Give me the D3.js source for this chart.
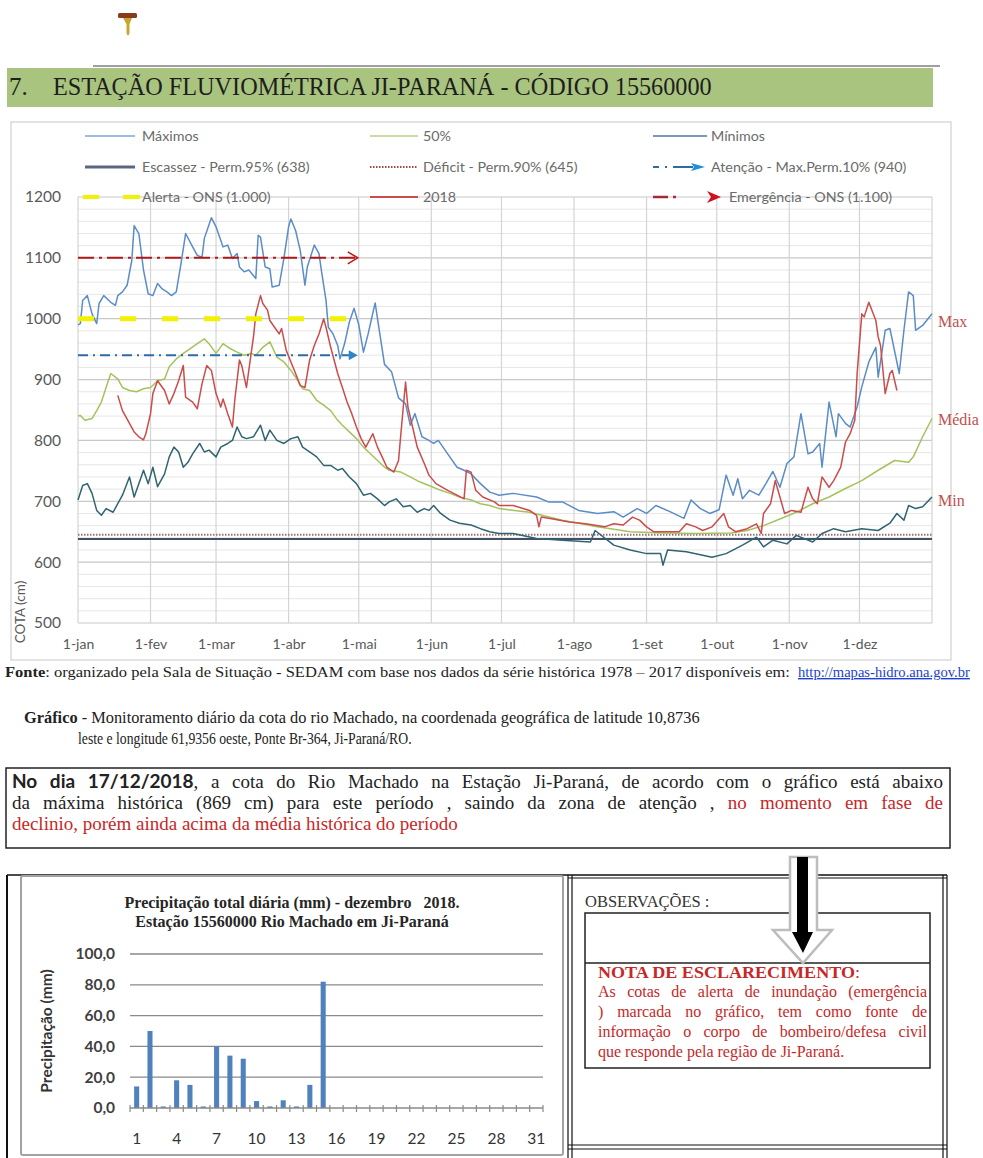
<!DOCTYPE html>
<html>
<head>
<meta charset="utf-8">
<script src="https://cdn.jsdelivr.net/npm/d3@7"></script>
<style>
  body { margin: 0; background: #fff; }
  svg { display: block; }
  text { white-space: pre; }
</style>
</head>
<body>
<svg id="page" width="983" height="1158"></svg>
<script>
// ---------------- Cota do rio Machado (cm) por dia do ano ----------------
const monthLabels = ["1-jan","1-fev","1-mar","1-abr","1-mai","1-jun","1-jul","1-ago","1-set","1-out","1-nov","1-dez"];
const monthStartDays = [0,31,59,90,120,151,181,212,243,273,304,334];
const cotaTicks = [500,600,700,800,900,1000,1100,1200];

// [dia do ano, cota]
const maximos = [[0,990],[1,992],[2,1030],[4,1038],[6,1008],[8,992],[9,1025],[11,1038],[14,1027],[16,1022],[17,1038],[19,1044],[21,1055],[23,1096],[24,1153],[26,1140],[28,1080],[30,1041],[32,1038],[34,1058],[36,1049],[38,1044],[40,1038],[42,1044],[44,1090],[46,1140],[49,1118],[51,1104],[53,1101],[54,1132],[57,1166],[59,1151],[61,1129],[62,1118],[64,1121],[66,1099],[68,1107],[69,1085],[71,1077],[73,1080],[76,1066],[77,1137],[78,1134],[80,1085],[82,1082],[83,1052],[86,1055],[88,1099],[90,1151],[91,1164],[93,1145],[95,1112],[97,1055],[98,1085],[101,1121],[103,1107],[104,1080],[106,1030],[107,986],[109,975],[111,956],[112,934],[114,960],[116,995],[118,1017],[120,990],[122,945],[124,975],[127,1026],[129,975],[131,925],[134,913],[137,870],[140,860],[142,825],[144,844],[147,806],[150,800],[152,795],[154,800],[158,778],[162,756],[165,751],[168,745],[172,729],[176,715],[180,710],[186,713],[196,707],[201,699],[207,699],[214,685],[222,680],[229,683],[233,674],[239,688],[243,680],[247,693],[253,683],[259,672],[262,702],[266,688],[270,680],[274,686],[277,743],[280,710],[282,737],[284,704],[287,718],[291,710],[294,729],[297,749],[300,723],[303,762],[306,773],[309,844],[312,778],[314,781],[317,795],[318,756],[321,863],[324,806],[325,844],[328,828],[330,822],[333,855],[335,888],[338,929],[341,953],[342,904],[345,981],[347,984],[351,910],[353,981],[355,1044],[357,1038],[358,981],[361,989],[365,1008]];

const mediana50 = [[0,840],[1,841],[3,833],[6,836],[8,849],[10,863],[12,887],[14,910],[17,901],[19,887],[22,882],[25,880],[28,885],[31,887],[34,898],[37,901],[39,921],[42,934],[45,943],[48,951],[51,959],[54,967],[56,959],[59,943],[62,959],[65,951],[68,945],[71,940],[74,943],[76,940],[79,953],[82,962],[85,937],[88,929],[91,915],[94,898],[96,885],[99,882],[102,866],[105,858],[108,849],[111,833],[113,825],[116,814],[119,803],[122,789],[125,778],[128,767],[131,756],[133,751],[138,748],[142,740],[146,732],[150,726],[155,718],[159,713],[163,707],[168,702],[172,696],[176,693],[180,688],[193,682],[207,669],[222,658],[236,650],[250,648],[264,647],[279,648],[286,652],[293,660],[300,671],[307,682],[314,696],[321,707],[328,721],[335,734],[342,751],[349,767],[355,764],[357,773],[361,806],[365,836]];

const minimos = [[0,702],[2,726],[4,729],[6,713],[8,685],[10,677],[12,688],[15,682],[17,696],[19,710],[22,740],[24,707],[26,729],[28,751],[30,729],[32,756],[34,724],[37,745],[39,773],[41,789],[43,781],[45,756],[47,764],[49,778],[52,795],[54,781],[56,784],[59,773],[61,789],[64,795],[66,800],[68,822],[70,806],[72,803],[75,806],[78,825],[80,800],[82,817],[85,800],[88,795],[91,803],[94,806],[96,789],[99,781],[102,773],[105,759],[108,759],[111,751],[113,754],[116,740],[119,729],[122,710],[125,713],[128,704],[131,693],[133,699],[136,704],[139,691],[142,693],[145,682],[148,688],[150,685],[152,693],[155,680],[159,669],[163,664],[168,661],[172,655],[176,650],[180,647],[186,647],[196,639],[207,636],[219,633],[221,652],[229,628],[236,620],[243,614],[249,614],[250,595],[252,620],[260,617],[271,608],[277,614],[284,628],[290,641],[293,625],[297,636],[303,630],[307,644],[314,633],[318,647],[323,655],[328,650],[335,655],[342,652],[347,664],[350,680],[353,669],[355,693],[358,688],[361,691],[365,707]];

const cota2018 = [[17,874],[19,849],[22,828],[24,814],[26,806],[28,801],[29,811],[31,844],[32,877],[34,898],[37,882],[39,860],[41,877],[43,898],[45,923],[46,871],[49,863],[51,852],[53,893],[55,923],[57,915],[59,877],[61,855],[62,868],[64,844],[66,822],[67,866],[69,932],[70,923],[72,887],[74,943],[75,970],[76,1008],[78,1038],[79,1025],[81,1014],[82,997],[84,986],[86,975],[87,984],[89,948],[91,929],[93,910],[95,890],[97,887],[99,932],[101,956],[103,975],[105,1000],[106,986],[108,953],[111,910],[113,887],[115,863],[117,844],[119,822],[121,803],[123,789],[126,811],[128,789],[130,773],[132,756],[135,748],[137,767],[138,811],[140,896],[141,855],[143,822],[145,789],[148,762],[150,743],[153,729],[158,718],[162,710],[165,704],[166,751],[168,748],[170,718],[173,707],[178,699],[180,693],[186,693],[193,685],[196,677],[197,658],[198,674],[203,671],[210,666],[217,663],[225,658],[229,663],[233,661],[237,674],[240,669],[243,658],[246,650],[252,650],[257,650],[260,663],[264,658],[267,652],[271,658],[276,680],[278,658],[281,650],[286,655],[290,663],[292,647],[293,680],[296,696],[298,734],[300,707],[302,680],[305,685],[309,682],[312,723],[314,704],[316,696],[318,740],[321,723],[323,734],[326,756],[328,797],[330,811],[332,833],[333,910],[335,1008],[336,1003],[338,1027],[341,997],[342,970],[343,956],[345,877],[347,910],[348,915],[350,882]];

// cotas de referência (cm) e dia final das faixas de alerta
const cotaEscassez = 638, cotaDeficit = 645, cotaAtencao = 940, cotaAlerta = 1000, cotaEmergencia = 1100;
const fimFaixaAlerta = 120;

// ---------------- Precipitação diária, dezembro 2018 (mm) ----------------
const precipDays = [1,2,3,4,5,6,7,8,9,10,11,12,13,14,15,16,17,18,19,20,21,22,23,24,25,26,27,28,29,30,31];
const precipValues = [14,50,1,18,15,1,40,34,32,4.5,1,5,1,15,82,0,0,0,0,0,0,0,0,0,0,0,0,0,0,0,0];
const precipDayLabels = [1,4,7,10,13,16,19,22,25,28,31];
const precipTicks = [0,20,40,60,80,100];

// ---------------- helpers ----------------
const SERIF = "'Liberation Serif','Times New Roman',serif";
const SANS = "Lato,'Liberation Sans',sans-serif";
const RED = "#c62828";
const svg = d3.select("#page");

// a run of styled pieces, stretched horizontally to `width` (or by `scale`)
function textRun(parent, x, y, parts, opts) {
  const t = parent.append("text")
    .attr("font-family", opts.family || SERIF)
    .attr("font-size", opts.size)
    .attr("fill", opts.fill || "#222");
  parts.forEach(p => {
    const ts = t.append("tspan").text(p.text);
    if (p.weight) ts.attr("font-weight", p.weight);
    if (p.fill) ts.attr("fill", p.fill);
    if (p.family) ts.attr("font-family", p.family);
    if (p.deco) ts.attr("text-decoration", p.deco);
  });
  const natural = t.node().getComputedTextLength();
  const s = opts.width ? opts.width / natural : (opts.scale || 1);
  t.attr("transform", `translate(${x},${y}) scale(${s},1)`);
  return s;
}

// a justified line: words keep their natural width, the spare room goes between them
function justify(parent, x, y, width, parts, opts) {
  const tokens = [];
  let startNew = true;
  parts.forEach(p => {
    const re = /(\s+)|([^\s]+)/g;
    let m;
    while ((m = re.exec(p.text))) {
      if (m[1]) { startNew = true; continue; }
      const seg = Object.assign({}, p, {text: m[2]});
      if (startNew || !tokens.length) { tokens.push([seg]); startNew = false; }
      else tokens[tokens.length - 1].push(seg);
    }
  });
  const g = parent.append("g");
  const nodes = tokens.map(tok => {
    const t = g.append("text").attr("y", y)
      .attr("font-family", opts.family || SERIF).attr("font-size", opts.size).attr("fill", opts.fill || "#222");
    tok.forEach(seg => {
      const ts = t.append("tspan").text(seg.text);
      if (seg.weight) ts.attr("font-weight", seg.weight);
      if (seg.fill) ts.attr("fill", seg.fill);
      if (seg.family) ts.attr("font-family", seg.family);
    });
    return t;
  });
  const widths = nodes.map(n => n.node().getComputedTextLength());
  const spaceW = opts.size * 0.25;
  const gap = width ? (width - d3.sum(widths)) / Math.max(1, nodes.length - 1) : spaceW;
  let cx = x;
  nodes.forEach((n, i) => { n.attr("x", cx); cx += widths[i] + gap; });
}

// ---------------- cabeçalho ----------------
const logo = svg.append("g");
logo.append("rect").attr("x", 118).attr("y", 13).attr("width", 19).attr("height", 5).attr("rx", 1.5).attr("fill", "#8a3b1c");
logo.append("path").attr("d", "M123,18 L132,18 L129.5,24 L129.5,33 Q128,38 126.5,33 L126.5,24 Z").attr("fill", "#c9a530");

svg.append("line").attr("x1", 93).attr("x2", 940).attr("y1", 66).attr("y2", 66).attr("stroke", "#808080").attr("stroke-width", 1.5);
svg.append("rect").attr("x", 7).attr("y", 68).attr("width", 926).attr("height", 39).attr("fill", "#a9c47f");
textRun(svg, 9, 95, [{text: "7."}], {size: 25, fill: "#1e1e1e"});
textRun(svg, 53, 95, [{text: "ESTAÇÃO FLUVIOMÉTRICA JI-PARANÁ - CÓDIGO 15560000"}], {size: 25, fill: "#1e1e1e", width: 659});

// ---------------- gráfico de cotas ----------------
const x = d3.scaleLinear().domain([0, 365]).range([78, 932]);
const y = d3.scaleLinear().domain([500, 1200]).range([623, 197]);

const chart = svg.append("g");
chart.append("rect").attr("x", 11).attr("y", 122).attr("width", 940).attr("height", 538)
  .attr("fill", "#fff").attr("stroke", "#d0d0d0").attr("stroke-width", 1.2);

// grade secundária e principal
chart.append("g").selectAll("line").data(y.ticks(35).filter(v => v % 100 !== 0)).join("line")
  .attr("x1", x(0)).attr("x2", x(365)).attr("y1", d => y(d)).attr("y2", d => y(d))
  .attr("stroke", "#e6e6e6").attr("stroke-width", 1);
chart.append("g").selectAll("line").data(cotaTicks).join("line")
  .attr("x1", x(0)).attr("x2", x(365)).attr("y1", d => y(d)).attr("y2", d => y(d))
  .attr("stroke", "#c8c8c8").attr("stroke-width", 1.2);
chart.append("g").selectAll("line").data(monthStartDays.concat([365])).join("line")
  .attr("x1", d => x(d)).attr("x2", d => x(d)).attr("y1", y(1200)).attr("y2", y(500))
  .attr("stroke", "#d4d4d4").attr("stroke-width", 1.2);

// eixos
const yAxis = chart.append("g").attr("transform", `translate(${x(0) - 14},0)`)
  .call(d3.axisLeft(y).tickValues(cotaTicks).tickSize(0).tickFormat(d3.format("d")));
yAxis.select(".domain").remove();
yAxis.selectAll("text").attr("font-family", SANS).attr("font-size", 15.5).attr("fill", "#595959");

const xAxis = chart.append("g").attr("transform", `translate(0,${y(500) + 13})`)
  .call(d3.axisBottom(x).tickValues(monthStartDays).tickSize(0).tickFormat((d, i) => monthLabels[i]));
xAxis.select(".domain").remove();
xAxis.selectAll("text").attr("font-family", SANS).attr("font-size", 14).attr("fill", "#595959");

chart.append("text").attr("transform", `translate(25,612) rotate(-90)`).attr("text-anchor", "middle")
  .attr("font-family", SANS).attr("font-size", 13.5).attr("fill", "#595959").text("COTA (cm)");

// linhas de referência
chart.append("line").attr("x1", x(0)).attr("x2", x(365)).attr("y1", y(cotaDeficit)).attr("y2", y(cotaDeficit))
  .attr("stroke", "#a07070").attr("stroke-width", 2).attr("stroke-dasharray", "1.5 1.5");
chart.append("line").attr("x1", x(0)).attr("x2", x(365)).attr("y1", y(cotaEscassez)).attr("y2", y(cotaEscassez))
  .attr("stroke", "#434f66").attr("stroke-width", 2);

const line = d3.line().x(d => x(d[0])).y(d => y(d[1]));
const series = [
  {data: minimos, color: "#2f6470"},
  {data: mediana50, color: "#a5c25c"},
  {data: maximos, color: "#5b8cc8"},
  {data: cota2018, color: "#cc4b4b"}
];
chart.append("g").selectAll("path").data(series).join("path")
  .attr("d", d => line(d.data)).attr("fill", "none")
  .attr("stroke", d => d.color).attr("stroke-width", 1.5).attr("stroke-linejoin", "round");

// faixas de alerta (até maio)
chart.append("line").attr("x1", x(0)).attr("x2", x(fimFaixaAlerta) + 1).attr("y1", y(cotaAlerta)).attr("y2", y(cotaAlerta))
  .attr("stroke", "#f2f200").attr("stroke-width", 5).attr("stroke-dasharray", "16 26");
chart.append("line").attr("x1", x(0)).attr("x2", x(fimFaixaAlerta) - 6).attr("y1", y(cotaAtencao)).attr("y2", y(cotaAtencao))
  .attr("stroke", "#2e6da4").attr("stroke-width", 1.8).attr("stroke-dasharray", "10 5 2 5");
chart.append("path")
  .attr("d", `M${x(fimFaixaAlerta) - 10},${y(cotaAtencao) - 5} L${x(fimFaixaAlerta) - 1},${y(cotaAtencao)} L${x(fimFaixaAlerta) - 10},${y(cotaAtencao) + 5} Z`)
  .attr("fill", "#2e86c8");
chart.append("line").attr("x1", x(0)).attr("x2", x(fimFaixaAlerta) - 2).attr("y1", y(cotaEmergencia)).attr("y2", y(cotaEmergencia))
  .attr("stroke", "#b01818").attr("stroke-width", 2).attr("stroke-dasharray", "16 5 3 5");
chart.append("path")
  .attr("d", `M${x(fimFaixaAlerta) - 11},${y(cotaEmergencia) - 6} L${x(fimFaixaAlerta) - 1},${y(cotaEmergencia)} L${x(fimFaixaAlerta) - 11},${y(cotaEmergencia) + 6}`)
  .attr("fill", "none").attr("stroke", "#c01818").attr("stroke-width", 1.6);

// rótulos à direita
[["Max", 327], ["Média", 425], ["Min", 506]].forEach(([t, yy]) => {
  chart.append("text").attr("x", 938).attr("y", yy).attr("font-family", SERIF).attr("font-size", 16)
    .attr("fill", "#c0504d").text(t);
});

// legenda
const legendRows = [136, 167, 197];
const legendCols = [{x1: 85, x2: 135, tx: 142}, {x1: 370, x2: 418, tx: 423}, {x1: 653, x2: 707, tx: 711}];
const legendItems = [
  {label: "Máximos", col: 0, row: 0, kind: "solid", color: "#7ea6d6", w: 1.6},
  {label: "50%", col: 1, row: 0, kind: "solid", color: "#b9cf86", w: 1.6},
  {label: "Mínimos", col: 2, row: 0, kind: "solid", color: "#4f79a2", w: 1.6},
  {label: "Escassez - Perm.95% (638)", col: 0, row: 1, kind: "solid", color: "#5b6680", w: 3},
  {label: "Déficit - Perm.90% (645)", col: 1, row: 1, kind: "dotted", color: "#a04848", w: 2},
  {label: "Atenção - Max.Perm.10% (940)", col: 2, row: 1, kind: "atencao"},
  {label: "Alerta - ONS (1.000)", col: 0, row: 2, kind: "alerta"},
  {label: "2018", col: 1, row: 2, kind: "solid", color: "#cc4b4b", w: 2.2},
  {label: "Emergência - ONS (1.100)", col: 2, row: 2, kind: "emerg"}
];
const legend = chart.append("g");
legendItems.forEach(it => {
  const c = legendCols[it.col], ly = legendRows[it.row];
  const g = legend.append("g");
  if (it.kind === "solid" || it.kind === "dotted") {
    g.append("line").attr("x1", c.x1).attr("x2", c.x2).attr("y1", ly).attr("y2", ly)
      .attr("stroke", it.color).attr("stroke-width", it.w)
      .attr("stroke-dasharray", it.kind === "dotted" ? "1.5 1.5" : null);
  } else if (it.kind === "alerta") {
    g.append("line").attr("x1", c.x1 - 2).attr("x2", c.x1 + 14).attr("y1", ly).attr("y2", ly).attr("stroke", "#f2f200").attr("stroke-width", 4);
    g.append("line").attr("x1", c.x1 + 38).attr("x2", c.x1 + 55).attr("y1", ly).attr("y2", ly).attr("stroke", "#f2f200").attr("stroke-width", 4);
  } else if (it.kind === "atencao") {
    g.append("line").attr("x1", c.x1).attr("x2", c.x1 + 6).attr("y1", ly).attr("y2", ly).attr("stroke", "#2e6da4").attr("stroke-width", 2);
    g.append("line").attr("x1", c.x1 + 12).attr("x2", c.x1 + 14).attr("y1", ly).attr("y2", ly).attr("stroke", "#2e6da4").attr("stroke-width", 2);
    g.append("line").attr("x1", c.x1 + 20).attr("x2", c.x1 + 40).attr("y1", ly).attr("y2", ly).attr("stroke", "#2e6da4").attr("stroke-width", 2);
    g.append("path").attr("d", `M${c.x1 + 38},${ly - 4} L${c.x1 + 52},${ly} L${c.x1 + 38},${ly + 4} L${c.x1 + 41},${ly} Z`).attr("fill", "#1f8fd6");
  } else if (it.kind === "emerg") {
    g.append("line").attr("x1", c.x1).attr("x2", c.x1 + 15).attr("y1", ly).attr("y2", ly).attr("stroke", "#a8283a").attr("stroke-width", 2.5);
    g.append("line").attr("x1", c.x1 + 20).attr("x2", c.x1 + 23).attr("y1", ly).attr("y2", ly).attr("stroke", "#a8283a").attr("stroke-width", 2.5);
    g.append("path").attr("d", `M${c.x1 + 54},${ly - 6} L${c.x1 + 68},${ly} L${c.x1 + 54},${ly + 6} L${c.x1 + 58},${ly} Z`).attr("fill", "#d0101e");
  }
  const tx = it.kind === "emerg" ? c.tx + 18 : c.tx;
  textRun(g, tx, ly + 4.5, [{text: it.label}], {family: SANS, size: 13, fill: "#6b6b6b", scale: 1.1});
});

// ---------------- textos ----------------
textRun(svg, 5, 677, [
  {text: "Fonte", weight: "bold"},
  {text: ": organizado pela Sala de Situação - SEDAM com base nos dados da série histórica 1978 – 2017 disponíveis em: "}
], {size: 14, fill: "#222", width: 790});
textRun(svg, 798, 677, [{text: "http://mapas-hidro.ana.gov.br", fill: "#1d3fd0", deco: "underline"}],
  {size: 14, width: 172});

textRun(svg, 24, 723, [
  {text: "Gráfico", weight: "bold"},
  {text: " - Monitoramento diário da cota do rio Machado, na coordenada geográfica de latitude 10,8736"}
], {size: 16.5, fill: "#222", width: 676});
textRun(svg, 78, 744, [{text: "leste e longitude 61,9356 oeste, Ponte Br-364, Ji-Paraná/RO."}],
  {size: 16.5, fill: "#222", width: 334});

svg.append("rect").attr("x", 6).attr("y", 768).attr("width", 944).attr("height", 80)
  .attr("fill", "none").attr("stroke", "#222").attr("stroke-width", 1.5);
justify(svg, 12, 788, 931, [
  {text: "No dia 17/12/2018", weight: "bold", family: SANS},
  {text: ", a cota do Rio Machado na Estação Ji-Paraná, de acordo com o gráfico está abaixo"}
], {size: 19, fill: "#222"});
justify(svg, 12, 809, 931, [
  {text: "da máxima histórica (869 cm) para este período , saindo da zona de atenção , "},
  {text: "no momento em fase de", fill: RED}
], {size: 19, fill: "#222"});
justify(svg, 12, 830, 0, [{text: "declinio, porém ainda acima da média histórica do período", fill: RED}],
  {size: 19, fill: RED});

// ---------------- quadro inferior ----------------
const bottom = svg.append("g");
bottom.append("line").attr("x1", 7).attr("x2", 947).attr("y1", 875).attr("y2", 875).attr("stroke", "#111").attr("stroke-width", 1.5);
bottom.append("line").attr("x1", 7).attr("x2", 7).attr("y1", 875).attr("y2", 1158).attr("stroke", "#111").attr("stroke-width", 2);
[568, 572, 943, 947].forEach(xx => bottom.append("line").attr("x1", xx).attr("x2", xx).attr("y1", 875).attr("y2", 1158).attr("stroke", "#111").attr("stroke-width", 1.2));
[878, 1145, 1149].forEach(yy => bottom.append("line").attr("x1", 568).attr("x2", 947).attr("y1", yy).attr("y2", yy).attr("stroke", "#111").attr("stroke-width", 1.2));

// painel do gráfico de precipitação
bottom.append("rect").attr("x", 21).attr("y", 876).attr("width", 542).attr("height", 279).attr("rx", 2)
  .attr("fill", "#fff").attr("stroke", "#a3a3a3").attr("stroke-width", 2);

const px = d3.scaleBand().domain(precipDays).range([130, 543]).paddingInner(0.62).paddingOuter(0.31);
const py = d3.scaleLinear().domain([0, 100]).range([1108, 954]);
const step = px.step();

bottom.append("text").attr("x", 292).attr("y", 908).attr("text-anchor", "middle")
  .attr("font-family", SERIF).attr("font-weight", "bold").attr("font-size", 16).attr("fill", "#262626")
  .text("Precipitação total diária (mm) - dezembro   2018.");
bottom.append("text").attr("x", 292).attr("y", 927).attr("text-anchor", "middle")
  .attr("font-family", SERIF).attr("font-weight", "bold").attr("font-size", 16).attr("fill", "#262626")
  .text("Estação 15560000 Rio Machado em Ji-Paraná");

bottom.append("g").selectAll("line").data(precipTicks.filter(v => v > 0)).join("line")
  .attr("x1", 130).attr("x2", 543).attr("y1", d => py(d)).attr("y2", d => py(d))
  .attr("stroke", "#8a8a8a").attr("stroke-width", 1.3);

bottom.append("g").selectAll("rect").data(precipDays).join("rect")
  .attr("x", d => px(d)).attr("width", px.bandwidth())
  .attr("y", (d, i) => py(precipValues[i])).attr("height", (d, i) => py(0) - py(precipValues[i]))
  .attr("fill", "#4f81bd");

bottom.append("line").attr("x1", 130).attr("x2", 543).attr("y1", py(0)).attr("y2", py(0)).attr("stroke", "#8a8a8a").attr("stroke-width", 1.3);
bottom.append("g").selectAll("line").data(precipDays.concat([32])).join("line")
  .attr("x1", d => 130 + (d - 1) * step).attr("x2", d => 130 + (d - 1) * step)
  .attr("y1", py(0) - 3).attr("y2", py(0) + 4).attr("stroke", "#8a8a8a").attr("stroke-width", 1.2);

const pyAxis = bottom.append("g").attr("transform", "translate(118,0)")
  .call(d3.axisLeft(py).tickValues(precipTicks).tickSize(0).tickFormat(d => d3.format(".1f")(d).replace(".", ",")));
pyAxis.select(".domain").remove();
pyAxis.selectAll("text").attr("font-family", SANS).attr("font-weight", "bold").attr("font-size", 15.5).attr("fill", "#404040");

const pxAxis = bottom.append("g").attr("transform", `translate(0,${py(0) + 28})`)
  .call(d3.axisBottom(px).tickValues(precipDayLabels).tickSize(0));
pxAxis.select(".domain").remove();
pxAxis.selectAll("text").attr("font-family", SANS).attr("font-size", 15.5).attr("fill", "#333").attr("dy", "0.35em");

bottom.append("text").attr("transform", "translate(52,1031) rotate(-90)").attr("text-anchor", "middle")
  .attr("font-family", SANS).attr("font-weight", "bold").attr("font-size", 15.5).attr("fill", "#333")
  .text("Precipitação (mm)");

// observações
bottom.append("text").attr("x", 585).attr("y", 907).attr("font-family", SERIF).attr("font-size", 16.5)
  .attr("fill", "#333").text("OBSERVAÇÕES :");
bottom.append("rect").attr("x", 585).attr("y", 913).attr("width", 345).attr("height", 155)
  .attr("fill", "none").attr("stroke", "#222").attr("stroke-width", 1.5);
bottom.append("line").attr("x1", 585).attr("x2", 930).attr("y1", 963).attr("y2", 963).attr("stroke", "#222").attr("stroke-width", 1.5);

textRun(bottom, 598, 978, [{text: "NOTA DE ESCLARECIMENTO", weight: "bold"}, {text: ":"}], {size: 16, fill: RED, width: 262});
const notaLines = [
  "As cotas de alerta de inundação (emergência",
  ")  marcada no gráfico, tem como fonte de",
  "informação o corpo de bombeiro/defesa civil"
];
notaLines.forEach((t, i) => justify(bottom, 598, 997 + i * 20, 329, [{text: t}], {size: 16, fill: RED}));
justify(bottom, 598, 1057, 0, [{text: "que responde pela região de  Ji-Paraná."}], {size: 16, fill: RED});

// seta indicativa
const arrow = bottom.append("g");
arrow.append("path")
  .attr("d", "M790,857 L817,857 L817,930 L832,930 L803,963 L773,930 L790,930 Z")
  .attr("fill", "#fff").attr("stroke", "#bdbdbd").attr("stroke-width", 2.5);
arrow.append("path")
  .attr("d", "M797,857 L808,857 L808,932 L813,932 L803,953 L792,932 L797,932 Z")
  .attr("fill", "#000");
</script>
</body>
</html>
